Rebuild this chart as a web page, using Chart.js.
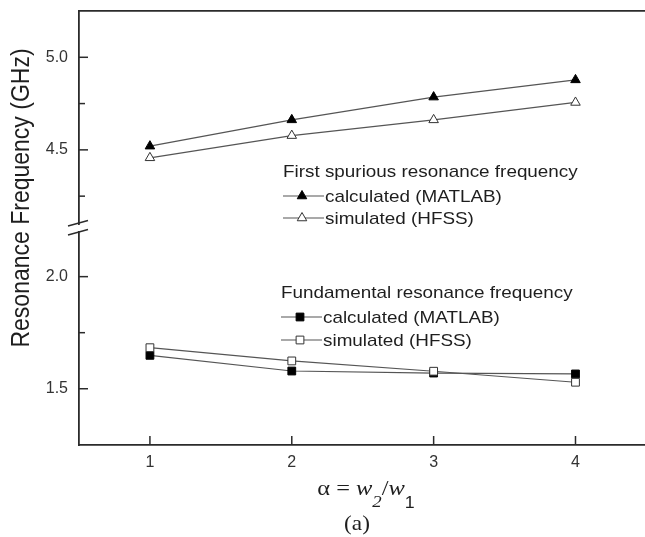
<!DOCTYPE html>
<html>
<head>
<meta charset="utf-8">
<title>Resonance frequency vs w2/w1</title>
<script src="https://cdn.jsdelivr.net/npm/chart.js@4.4.1/dist/chart.umd.min.js"></script>
<style>
  html, body { margin: 0; padding: 0; background: #fff; }
  #wrap { position: relative; width: 645px; height: 537px; }
</style>
</head>
<body>
<div id="wrap"><canvas id="freqChart"></canvas></div>
<script>
// alpha = w2 / w1
const alpha = [1, 2, 3, 4];

// First spurious resonance (GHz)
const spuriousCalc = [4.52, 4.662, 4.785, 4.878];
const spuriousSim  = [4.457, 4.577, 4.662, 4.756];

// Fundamental resonance (GHz)
const fundCalc = [1.649, 1.579, 1.570, 1.566];
const fundSim  = [1.683, 1.624, 1.578, 1.529];

// ticks (minor ticks are the unlabeled quarter steps)
const xTicks     = [1, 2, 3, 4];
const upperTicks = [4.25, 4.5, 4.75, 5.0];
const lowerTicks = [1.5, 1.75, 2.0];

const groupTitles = ['First spurious resonance frequency', 'Fundamental resonance frequency'];

const SANS = "'Liberation Sans', Arial, Helvetica, sans-serif";
const SERIF = "'Liberation Serif', 'Times New Roman', serif";
const AXIS_COLOR = '#2b2b2b';
const LINE_COLOR = '#555';
const TEXT_COLOR = '#1e1e1e';
const STRETCH = 1.11;   // the original figure is a bit wider than tall

const isMajor = v => Math.abs(v * 2 - Math.round(v * 2)) < 1e-6;
const toPoints = ys => alpha.map((a, i) => ({ x: a, y: ys[i] }));

function drawMarker(ctx, style, r, x, y, fill, stroke) {
  ctx.beginPath();
  if (style === 'triangle') {
    ctx.moveTo(x, y - r);
    ctx.lineTo(x + 0.866 * r, y + 0.5 * r);
    ctx.lineTo(x - 0.866 * r, y + 0.5 * r);
    ctx.closePath();
  } else {
    const h = r * Math.SQRT1_2;
    ctx.rect(x - h, y - h, 2 * h, 2 * h);
  }
  ctx.fillStyle = fill;
  ctx.fill();
  ctx.lineWidth = 1;
  ctx.strokeStyle = stroke;
  ctx.stroke();
}

// draws text stretched horizontally like the source figure
function wideText(ctx, str, x, y, align) {
  const w = ctx.measureText(str).width * STRETCH;
  const x0 = align === 'center' ? x - w / 2 : x;
  ctx.save();
  ctx.translate(x0, y);
  ctx.scale(STRETCH, 1);
  ctx.textAlign = 'left';
  ctx.fillText(str, 0, 0);
  ctx.restore();
  return w;
}

const series = (label, ys, axis, style, filled, order) => ({
  label,
  data: toPoints(ys),
  yAxisID: axis,
  borderColor: LINE_COLOR,
  borderWidth: 1.2,
  pointStyle: style,
  pointRadius: 5.5,
  pointBorderWidth: 1,
  pointBackgroundColor: filled ? '#000' : '#fff',
  pointBorderColor: filled ? '#000' : '#333',
  order
});

const datasets = [
  series('calculated (MATLAB)', spuriousCalc, 'yHigh', 'triangle', true, 1),
  series('simulated (HFSS)',    spuriousSim,  'yHigh', 'triangle', false, 0),
  series('calculated (MATLAB)', fundCalc,     'yLow',  'rect',     true, 1),
  series('simulated (HFSS)',    fundSim,      'yLow',  'rect',     false, 0)
];

// legend blocks inside the plot: header + two entries each
const legendBlocks = [
  { title: groupTitles[0], items: [0, 1], x: 283, y: 177, rows: [196, 218] },
  { title: groupTitles[1], items: [2, 3], x: 281, y: 298, rows: [317, 340] }
];

const frameDecor = {
  id: 'frameDecor',
  afterDraw(chart) {
    const { ctx, chartArea: area, scales } = chart;
    ctx.save();
    ctx.strokeStyle = AXIS_COLOR;
    ctx.lineWidth = 1.5;
    const seg = (x1, y1, x2, y2) => { ctx.beginPath(); ctx.moveTo(x1, y1); ctx.lineTo(x2, y2); ctx.stroke(); };

    // inward tick marks
    ['yHigh', 'yLow'].forEach(id => {
      const s = scales[id];
      s.ticks.forEach(t => {
        const y = s.getPixelForValue(t.value);
        seg(area.left, y, area.left + (isMajor(t.value) ? 9 : 6), y);
      });
    });
    scales.x.ticks.forEach(t => {
      const x = scales.x.getPixelForValue(t.value);
      seg(x, area.bottom, x, area.bottom - 9);
    });

    // axis break between the two y segments
    const yb = scales.yLow.top;
    ctx.fillStyle = '#fff';
    ctx.fillRect(area.left - 2, yb - 3, 4, 6);
    seg(area.left - 11, yb - 2, area.left + 9, yb - 7.5);
    seg(area.left - 11, yb + 7, area.left + 9, yb + 1.5);

    // y title
    ctx.fillStyle = TEXT_COLOR;
    ctx.font = `23px ${SANS}`;
    ctx.textBaseline = 'middle';
    ctx.save();
    ctx.translate(22, 198);
    ctx.scale(STRETCH, 1);
    ctx.rotate(-Math.PI / 2);
    ctx.textAlign = 'center';
    ctx.fillText('Resonance Frequency (GHz)', 0, 0);
    ctx.restore();

    // x title: alpha = w2/w1
    ctx.textBaseline = 'alphabetic';
    const parts = [
      { t: 'α',   f: `22px ${SERIF}`,        dy: 0 },
      { t: ' = ', f: `22px ${SERIF}`,        dy: 0 },
      { t: 'w',   f: `italic 22px ${SERIF}`, dy: 0 },
      { t: '2',   f: `italic 17px ${SERIF}`, dy: 12 },
      { t: '/',   f: `22px ${SERIF}`,        dy: 0 },
      { t: 'w',   f: `italic 22px ${SERIF}`, dy: 0 },
      { t: '1',   f: `16px ${SANS}`,         dy: 13 }
    ];
    let total = 0;
    parts.forEach(p => { ctx.font = p.f; p.w = ctx.measureText(p.t).width * STRETCH; total += p.w; });
    let cx = 366 - total / 2;
    parts.forEach(p => { ctx.font = p.f; wideText(ctx, p.t, cx, 495 + p.dy, 'left'); cx += p.w; });

    ctx.font = `21px ${SERIF}`;
    wideText(ctx, '(a)', 357, 530, 'center');
    ctx.restore();
  },
  afterDatasetsDraw(chart) {
    const { ctx } = chart;
    ctx.save();
    ctx.fillStyle = TEXT_COLOR;
    ctx.textBaseline = 'alphabetic';
    legendBlocks.forEach(b => {
      ctx.font = `17px ${SANS}`;
      wideText(ctx, b.title, b.x, b.y, 'left');
      b.items.forEach((idx, k) => {
        const ds = chart.data.datasets[idx];
        const y = b.rows[k];
        ctx.strokeStyle = LINE_COLOR;
        ctx.lineWidth = 1.2;
        ctx.beginPath();
        ctx.moveTo(b.x, y);
        ctx.lineTo(b.x + 41, y);
        ctx.stroke();
        drawMarker(ctx, ds.pointStyle, ds.pointRadius, b.x + 19, y, ds.pointBackgroundColor, ds.pointBorderColor);
        ctx.fillStyle = TEXT_COLOR;
        wideText(ctx, ds.label, b.x + 42, y + 6, 'left');
      });
    });
    ctx.restore();
  }
};

const yAxis = (ticks, min, max) => ({
  type: 'linear',
  position: 'left',
  stack: 'freq',
  stackWeight: 1,
  min, max,
  grid: { display: false, drawTicks: false },
  border: { display: true, color: AXIS_COLOR, width: 1.8 },
  afterBuildTicks: s => { s.ticks = ticks.map(v => ({ value: v })); },
  afterFit: s => { s.width = 79; s.paddingTop = 0; s.paddingBottom = 0; },
  ticks: {
    autoSkip: false,
    padding: 11,
    color: '#333',
    font: { size: 16, family: SANS },
    callback: v => isMajor(v) ? v.toFixed(1) : ''
  }
});

new Chart(document.getElementById('freqChart'), {
  type: 'line',
  data: { datasets },
  options: {
    responsive: true,
    maintainAspectRatio: false,
    devicePixelRatio: 1,
    animation: false,
    layout: { padding: 0, autoPadding: false },
    plugins: { legend: { display: false }, tooltip: { enabled: false } },
    scales: {
      x: {
        type: 'linear',
        min: 0.5, max: 4.49,
        grid: { display: false, drawTicks: false },
        border: { display: true, color: AXIS_COLOR, width: 1.8 },
        afterBuildTicks: s => { s.ticks = xTicks.map(v => ({ value: v })); },
        afterFit: s => { s.height = 92; s.paddingLeft = 0; s.paddingRight = 0; },
        ticks: { autoSkip: false, padding: 8, color: '#333', font: { size: 16, family: SANS } }
      },
      xTop: {
        type: 'linear',
        position: 'top',
        min: 0.5, max: 4.49,
        grid: { display: false, drawTicks: false },
        border: { display: true, color: AXIS_COLOR, width: 1.8 },
        ticks: { display: false },
        afterFit: s => { s.height = 11; s.paddingLeft = 0; s.paddingRight = 0; }
      },
      yLow: yAxis(lowerTicks, 1.249, 2.217),
      yHigh: yAxis(upperTicks, 4.078, 5.25)
    }
  },
  plugins: [frameDecor]
});
</script>
</body>
</html>
